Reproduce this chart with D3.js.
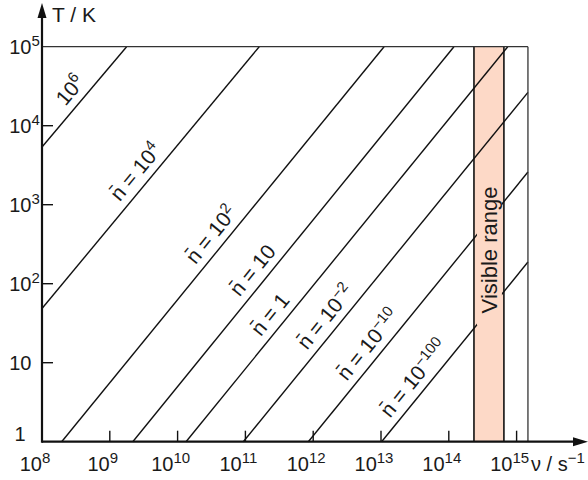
<!DOCTYPE html>
<html><head><meta charset="utf-8">
<script src="https://cdn.jsdelivr.net/npm/d3@7"></script>
<style>
body{margin:0;background:#fff}
svg{display:block}
text{font-family:"Liberation Sans",Arial,Helvetica,sans-serif;fill:#1a1a1a}
</style>
</head><body>
<svg id="chart" width="588" height="480"></svg>
<script>
// ---- data ----
const xTickExps = [8, 9, 10, 11, 12, 13, 14, 15];
const yTickExps = [0, 1, 2, 3, 4, 5];
const occupancyExps = [6, 4, 2, 1, 0, -2, -10, -100];
const lineStartNu = [1e8, 1e8, 1.95e8, 2.18e9, 1.33e10, 9.31e10, 8.47e11, 1.02e13];
const lineStartT  = [5.37e3, 48.5, 1, 1, 1, 1, 1, 1];
const lineEndNu   = [1.77e9, 1.60e11, 1.11e13, 1.19e14, 7.40e14, 1.47e15, 1.47e15, 1.47e15];
const lineEndT    = [1e5, 1e5, 1e5, 1e5, 1e5, 2.64e4, 2.59e3, 188];
const visibleRange = [2.35e14, 6.5e14];
const nuMax = 1.47e15;
const bandLabel = "Visible range";

// ---- layout ----
const labelFrac = [0.47, 0.485, 0.5, 0.41, 0.298, 0.33, 0.325, 0.3];
const fsTick = 20, fsSup = 15, supRaise = 8;
const fsLab = 21, fsLabSup = 15;

const svg = d3.select("#chart");
const x = d3.scaleLog().domain([1e8, 1e15]).range([42, 516.6]);
const y = d3.scaleLog().domain([1, 1e5]).range([441.7, 46.7]);
const x0 = x(1e8), y0 = y(1), yTop = y(1e5), xR = x(nuMax);

// band
svg.append("rect")
  .attr("x", x(visibleRange[0])).attr("y", yTop)
  .attr("width", x(visibleRange[1]) - x(visibleRange[0]))
  .attr("height", y0 - yTop)
  .attr("fill", "#fdd9c7");

// lines
const lineGen = d3.line().x(d => x(d[0])).y(d => y(d[1]));
const lines = occupancyExps.map((e, i) => [[lineStartNu[i], lineStartT[i]], [lineEndNu[i], lineEndT[i]]]);
svg.append("g").selectAll("path").data(lines).join("path")
  .attr("d", lineGen).attr("fill", "none").attr("stroke", "#111").attr("stroke-width", 1.4);

// band border lines
[visibleRange[0], visibleRange[1]].forEach(v => {
  svg.append("line").attr("x1", x(v)).attr("x2", x(v)).attr("y1", yTop).attr("y2", y0)
    .attr("stroke", "#111").attr("stroke-width", 1.6);
});

// band label with background
const bx = (x(visibleRange[0]) + x(visibleRange[1])) / 2;
const bandG = svg.append("g");
const bt = bandG.append("text")
  .attr("transform", `translate(${bx + 1},250) rotate(-90)`)
  .attr("text-anchor", "middle").attr("dominant-baseline", "central")
  .attr("font-size", 22).text(bandLabel);
const bb = bt.node().getBBox();
bandG.insert("rect", "text")
  .attr("x", x(visibleRange[0]) + 3).attr("width", x(visibleRange[1]) - x(visibleRange[0]) - 5)
  .attr("y", 250 - bb.width / 2 - 10).attr("height", bb.width + 22)
  .attr("fill", "#fdd9c7");

// frame top & right
svg.append("line").attr("x1", x0).attr("x2", xR).attr("y1", yTop).attr("y2", yTop)
  .attr("stroke", "#333").attr("stroke-width", 1.3);
svg.append("line").attr("x1", xR).attr("x2", xR).attr("y1", yTop).attr("y2", y0)
  .attr("stroke", "#333").attr("stroke-width", 1.3);

// line labels
function addSup(t, base, sup, fs) {
  t.append("tspan").text(base);
  if (sup !== null) t.append("tspan").attr("font-size", fs).attr("dy", -supRaise).text(sup);
}
lines.forEach((ln, i) => {
  const p0 = [x(ln[0][0]), y(ln[0][1])], p1 = [x(ln[1][0]), y(ln[1][1])];
  const f = labelFrac[i];
  const px = p0[0] + (p1[0] - p0[0]) * f, py = p0[1] + (p1[1] - p0[1]) * f;
  const ang = Math.atan2(p1[1] - p0[1], p1[0] - p0[0]) * 180 / Math.PI;
  const e = occupancyExps[i];
  const t = svg.append("text")
    .attr("transform", `translate(${px},${py}) rotate(${ang})`)
    .attr("text-anchor", "middle").attr("y", -8).attr("font-size", fsLab);
  const sup = String(e).replace("-", "\u2212");
  if (i === 0) { addSup(t, "10", sup, fsLabSup); }
  else if (e === 0) { t.append("tspan").text("n\u0304 = 1"); }
  else if (e === 1) { t.append("tspan").text("n\u0304 = 10"); }
  else { addSup(t, "n\u0304 = 10", sup, fsLabSup); }
});

// axes
svg.append("line").attr("x1", x0).attr("x2", 580).attr("y1", y0).attr("y2", y0)
  .attr("stroke", "#111").attr("stroke-width", 2.2);
svg.append("line").attr("x1", x0).attr("x2", x0).attr("y1", y0 + 1).attr("y2", 10)
  .attr("stroke", "#111").attr("stroke-width", 2.2);
svg.append("path").attr("d", `M${x0},3 L${x0 - 4.5},18 L${x0 + 4.5},18 Z`).attr("fill", "#111");
svg.append("path").attr("d", `M588,${y0} L573,${y0 - 4.5} L573,${y0 + 4.5} Z`).attr("fill", "#111");

// ticks
xTickExps.filter(e => e > 8).forEach(e => {
  svg.append("line").attr("x1", x(10 ** e)).attr("x2", x(10 ** e)).attr("y1", y0).attr("y2", y0 - 11)
    .attr("stroke", "#111").attr("stroke-width", 1.4);
});
yTickExps.filter(e => e > 0 && e < 5).forEach(e => {
  svg.append("line").attr("x1", x0).attr("x2", x0 + 11).attr("y1", y(10 ** e)).attr("y2", y(10 ** e))
    .attr("stroke", "#111").attr("stroke-width", 1.4);
});

// x tick labels
xTickExps.forEach(e => {
  const t = svg.append("text").attr("x", x(10 ** e) - 7).attr("y", 471)
    .attr("text-anchor", "middle").attr("font-size", fsTick);
  addSup(t, "10", String(e), fsSup);
});
// y tick labels
yTickExps.forEach(e => {
  const yy = y(10 ** e);
  if (e === 0) {
    svg.append("text").attr("x", 20).attr("y", 441).attr("text-anchor", "middle").attr("font-size", fsTick).text("1");
  } else {
    svg.append("text").attr("x", 31.5).attr("y", yy + 7).attr("text-anchor", "end").attr("font-size", fsTick).text("10");
    if (e > 1) svg.append("text").attr("x", 31.5).attr("y", yy + 7 - supRaise).attr("font-size", fsSup).text(String(e));
  }
});

// axis titles
svg.append("text").attr("x", 52).attr("y", 22).attr("font-size", 21).text("T / K");
const xt = svg.append("text").attr("x", 531).attr("y", 471).attr("font-size", fsTick);
xt.append("tspan").text("\u03BD / s");
xt.append("tspan").attr("font-size", fsSup).attr("dy", -supRaise).text("\u22121");
</script>
</body></html>
